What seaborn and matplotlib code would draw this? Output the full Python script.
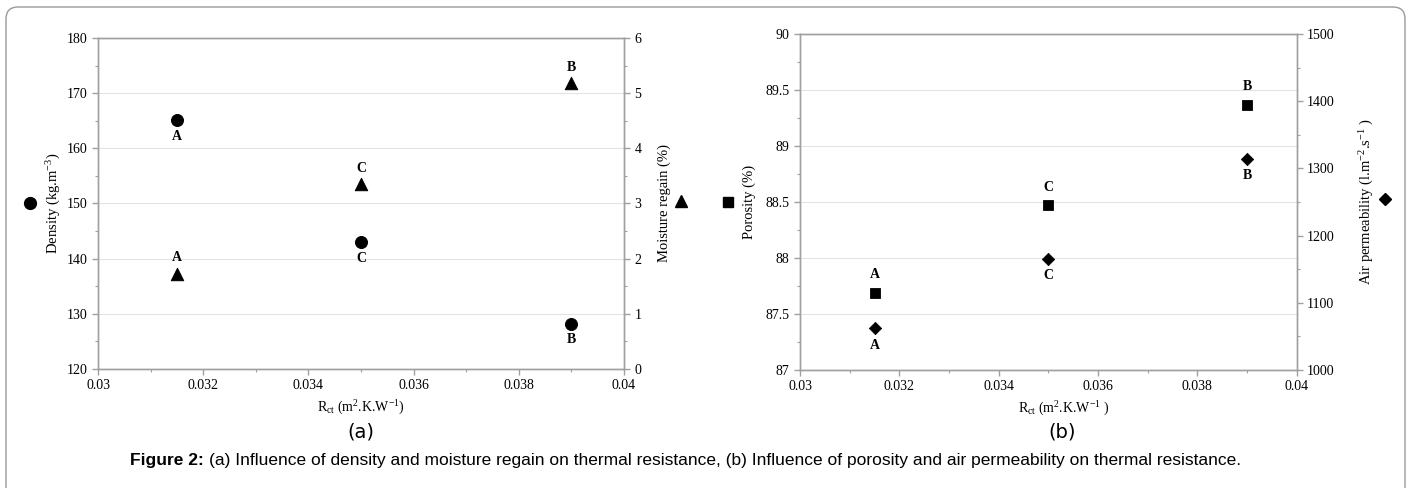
import matplotlib
matplotlib.use("Agg")
import matplotlib.pyplot as plt
import seaborn as sns
from matplotlib.patches import FancyBboxPatch
from matplotlib.transforms import IdentityTransform
from matplotlib.ticker import AutoMinorLocator

# data
rct = [0.0315, 0.0350, 0.0390]
groups = ["A", "C", "B"]
density = [165.1, 143.0, 128.2]
moisture = [1.73, 3.35, 5.18]
porosity = [87.69, 88.47, 89.37]
air_perm = [1062, 1165, 1314]

x_ticks = [0.03, 0.032, 0.034, 0.036, 0.038, 0.04]
x_ticklabels = ["0.03", "0.032", "0.034", "0.036", "0.038", "0.04"]

sns.set_style("white")
plt.rcParams["font.family"] = ["Liberation Serif", "DejaVu Serif"]
plt.rcParams["mathtext.fontset"] = "custom"
plt.rcParams["mathtext.rm"] = "Liberation Serif"
plt.rcParams["mathtext.it"] = "Liberation Serif:italic"
plt.rcParams["mathtext.bf"] = "Liberation Serif:bold"
plt.rcParams["text.color"] = "black"
plt.rcParams["axes.labelcolor"] = "black"

SPINE = "#a0a0a0"
FS = 10

fig = plt.figure(figsize=(14.13, 4.88), dpi=100)
ax_a = fig.add_axes([0.0694, 0.2439, 0.3722, 0.6783])
ax_b = fig.add_axes([0.5662, 0.2418, 0.3515, 0.6885])


def style_axis(ax, right=False):
    for s in ax.spines.values():
        s.set_color(SPINE)
        s.set_linewidth(1.0)
    ax.tick_params(axis="both", which="major", direction="out", length=4,
                   width=1, color=SPINE, labelsize=FS, labelcolor="black")
    ax.tick_params(axis="both", which="minor", direction="out", length=2.5,
                   width=0.8, color=SPINE)
    if right:
        ax.tick_params(left=False, right=True, which="both")
    else:
        ax.tick_params(left=True, bottom=True, which="both")


def label_points(ax, xs, ys, offset):
    for x, y, g in zip(xs, ys, groups):
        ax.annotate(g, (x, y), xytext=(0, offset), textcoords="offset points",
                    ha="center", va="center", fontsize=FS,
                    fontweight="bold")


# ---------- (a) density / moisture regain ----------
ax_a2 = ax_a.twinx()
sns.scatterplot(x=rct, y=density, ax=ax_a, marker="o", color="black",
                s=75, edgecolor="black", zorder=3)
sns.scatterplot(x=rct, y=moisture, ax=ax_a2, marker="^", color="black",
                s=80, edgecolor="black", zorder=3)
label_points(ax_a, rct, density, -11.5)
label_points(ax_a2, rct, moisture, 11.5)

ax_a.set_xlim(0.03, 0.04)
ax_a.set_ylim(120, 180)
ax_a2.set_ylim(0, 6)
ax_a.set_xticks(x_ticks)
ax_a.set_xticklabels(x_ticklabels)
ax_a.set_yticks(range(120, 181, 10))
ax_a2.set_yticks(range(0, 7))
ax_a.xaxis.set_minor_locator(AutoMinorLocator(2))
ax_a.yaxis.set_minor_locator(AutoMinorLocator(2))
ax_a2.yaxis.set_minor_locator(AutoMinorLocator(2))
ax_a.grid(axis="y", color="#e3e3e3", linewidth=0.8)
ax_a.set_axisbelow(True)
style_axis(ax_a)
style_axis(ax_a2, right=True)

ax_a.set_ylabel("Density (kg.m$^{-3}$)", fontsize=FS + 0.5)
ax_a.yaxis.set_label_coords(-0.0665, 0.5)
ax_a2.set_ylabel("Moisture regain (%)", fontsize=FS + 0.5)
ax_a2.yaxis.set_label_coords(1.063, 0.5)
ax_a.set_xlabel("R$_{\\mathrm{ct}}$ (m$^2$.K.W$^{-1}$)", fontsize=FS)
ax_a.xaxis.set_label_coords(0.5, -0.09)
ax_a.text(0.5, -0.19, "(a)", transform=ax_a.transAxes, ha="center",
          va="center", fontsize=14, family="DejaVu Sans")

# legend symbols beside the axis titles
ax_a.plot([-0.129], [0.5], marker="o", color="black", markersize=8.5,
          transform=ax_a.transAxes, clip_on=False)
ax_a.plot([1.108], [0.506], marker="^", color="black", markersize=9,
          transform=ax_a.transAxes, clip_on=False)

# ---------- (b) porosity / air permeability ----------
ax_b2 = ax_b.twinx()
sns.scatterplot(x=rct, y=porosity, ax=ax_b, marker="s", color="black",
                s=55, edgecolor="black", zorder=3)
sns.scatterplot(x=rct, y=air_perm, ax=ax_b2, marker="D", color="black",
                s=40, edgecolor="black", zorder=3)
label_points(ax_b, rct, porosity, 13)
label_points(ax_b2, rct, air_perm, -12)

ax_b.set_xlim(0.03, 0.04)
ax_b.set_ylim(87, 90)
ax_b2.set_ylim(1000, 1500)
ax_b.set_xticks(x_ticks)
ax_b.set_xticklabels(x_ticklabels)
ax_b.set_yticks([87, 87.5, 88, 88.5, 89, 89.5, 90])
ax_b.set_yticklabels(["87", "87.5", "88", "88.5", "89", "89.5", "90"])
ax_b2.set_yticks(range(1000, 1501, 100))
ax_b.xaxis.set_minor_locator(AutoMinorLocator(2))
ax_b.yaxis.set_minor_locator(AutoMinorLocator(2))
ax_b2.yaxis.set_minor_locator(AutoMinorLocator(2))
ax_b.grid(axis="y", color="#e3e3e3", linewidth=0.8)
ax_b.set_axisbelow(True)
style_axis(ax_b)
style_axis(ax_b2, right=True)

ax_b.set_ylabel("Porosity (%)", fontsize=FS + 0.5)
ax_b.yaxis.set_label_coords(-0.0886, 0.5)
ax_b2.set_ylabel("Air permeability (l.m$^{-2}$.s$^{-1}$ )", fontsize=FS + 0.5)
ax_b2.yaxis.set_label_coords(1.123, 0.5)
ax_b.set_xlabel("R$_{\\mathrm{ct}}$ (m$^2$.K.W$^{-1}$ )", fontsize=FS)
ax_b.xaxis.set_label_coords(0.53, -0.089)
ax_b.text(0.527, -0.186, "(b)", transform=ax_b.transAxes, ha="center",
          va="center", fontsize=14, family="DejaVu Sans")

ax_b.plot([-0.145], [0.5], marker="s", color="black", markersize=7.5,
          transform=ax_b.transAxes, clip_on=False)
ax_b.plot([1.177], [0.51], marker="D", color="black", markersize=6,
          transform=ax_b.transAxes, clip_on=False)

# ---------- caption and frame ----------
fig.patches.append(FancyBboxPatch((6, -30), 1399, 511,
                                  boxstyle="round,pad=0,rounding_size=12",
                                  transform=IdentityTransform(),
                                  facecolor="none", edgecolor="#9a9a9a",
                                  linewidth=1.0))

cap_y = 1 - 460 / 488
t1 = fig.text(130 / 1413, cap_y, "Figure 2:", fontsize=12.5, fontweight="bold",
              family="Liberation Sans", va="center", ha="left", color="black")
fig.canvas.draw()
bb = t1.get_window_extent()
fig.text((bb.x1 + 5) / 1413, cap_y,
         "(a) Influence of density and moisture regain on thermal resistance, "
         "(b) Influence of porosity and air permeability on thermal resistance.",
         fontsize=12.5, family="Liberation Sans", va="center", ha="left",
         color="black")

fig.savefig("out.png", dpi=100)
plt.close(fig)
